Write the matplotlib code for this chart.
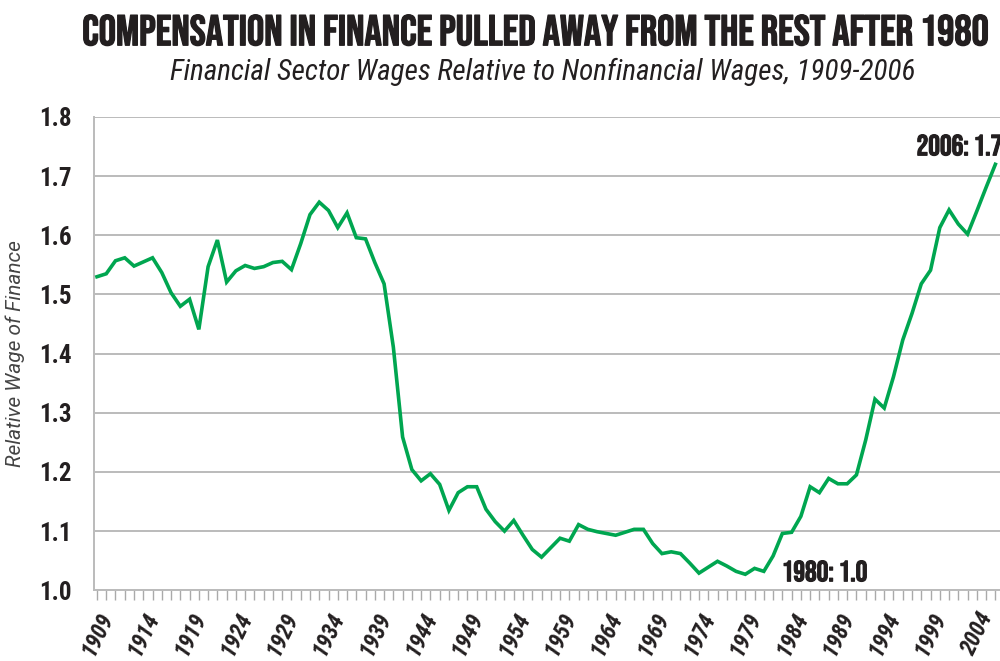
import numpy as np
import matplotlib
matplotlib.use("Agg")
import matplotlib.pyplot as plt
import matplotlib.patheffects as pe
from matplotlib.ticker import MultipleLocator, FixedLocator

# relative wage of finance
years = list(range(1909, 2007))
wage = [1.530, 1.535, 1.557, 1.562, 1.548, 1.555, 1.562, 1.537, 1.503, 1.480,
        1.492, 1.441, 1.547, 1.592, 1.521, 1.540, 1.549, 1.544, 1.547, 1.554,
        1.556, 1.542, 1.586, 1.635, 1.656, 1.642, 1.613, 1.638, 1.596, 1.594,
        1.554, 1.518, 1.411, 1.259, 1.204, 1.185, 1.197, 1.179, 1.135, 1.165,
        1.175, 1.175, 1.137, 1.116, 1.100, 1.118, 1.093, 1.069, 1.056, 1.072,
        1.088, 1.083, 1.111, 1.103, 1.099, 1.096, 1.093, 1.098, 1.103, 1.103,
        1.079, 1.062, 1.065, 1.062, 1.046, 1.029, 1.039, 1.049, 1.041, 1.032,
        1.027, 1.037, 1.032, 1.058, 1.096, 1.098, 1.125, 1.175, 1.165, 1.189,
        1.180, 1.180, 1.195, 1.254, 1.323, 1.308, 1.361, 1.423, 1.468, 1.518,
        1.541, 1.613, 1.643, 1.619, 1.602, 1.641, 1.681, 1.720]
label_years = list(range(1909, 2005, 5))
y_ticks = [1.0, 1.1, 1.2, 1.3, 1.4, 1.5, 1.6, 1.7, 1.8]

cond = ['Roboto Condensed', 'DejaVu Sans']
bebas = ['Bebas Neue', 'DejaVu Sans']
dark = '#231f20'

fig = plt.figure(figsize=(10, 6.61), dpi=100)
ax = fig.add_axes([0.094, 0.107, 0.906, 0.716])

ax.plot(years, wage, color='#00a650', lw=2.6, solid_joinstyle='miter', zorder=3)

ax.set_xlim(1908.68, 2006.5)
ax.set_ylim(1.0, 1.8)
ax.set_yticks(y_ticks)
ax.set_yticklabels(['%.1f' % v for v in y_ticks], family=cond,
                   fontweight='bold', fontsize=18, color=dark)
ax.xaxis.set_major_locator(FixedLocator(label_years))
ax.set_xticklabels([str(y) for y in label_years], family=cond, fontweight='bold',
                   fontstyle='italic', fontsize=16.5, color=dark, rotation=64,
                   ha='right', va='top', rotation_mode='anchor')
ax.xaxis.set_minor_locator(MultipleLocator(1))
ax.tick_params(axis='x', which='both', length=7, color='#aaaaaa', width=1, pad=6)
ax.tick_params(axis='y', length=0, pad=16)

ax.grid(axis='y', color='#bbbbbb', lw=1.4, zorder=1)
for s in ['top', 'right']:
    ax.spines[s].set_visible(False)
for s in ['left', 'bottom']:
    ax.spines[s].set_color('#bbbbbb')
    ax.spines[s].set_linewidth(1.4)

ax.set_ylabel('Relative Wage of Finance', family=['Roboto', 'DejaVu Sans'],
              fontstyle='italic', fontsize=15, color='#444444', labelpad=10)

ax.text(1982.93, 1.033, '1980: 1.0', family=bebas, fontsize=21, color=dark,
        va='center', ha='left',
        path_effects=[pe.withStroke(linewidth=0.8, foreground=dark)])
ax.text(1997.5, 1.753, '2006: 1.7', family=bebas, fontsize=21, color=dark,
        va='center', ha='left', clip_on=False,
        path_effects=[pe.withStroke(linewidth=0.8, foreground=dark)])

fig.text(0.535, 0.955, 'COMPENSATION IN FINANCE PULLED AWAY FROM THE REST AFTER 1980',
         family=bebas, fontsize=31, color=dark, ha='center', va='center',
         path_effects=[pe.withStroke(linewidth=0.9, foreground=dark)])
fig.text(0.5425, 0.891, 'Financial Sector Wages Relative to Nonfinancial Wages, 1909-2006',
         family=cond, fontstyle='italic', fontsize=21, color=dark,
         ha='center', va='center')

fig.savefig('out.png', dpi=100)
